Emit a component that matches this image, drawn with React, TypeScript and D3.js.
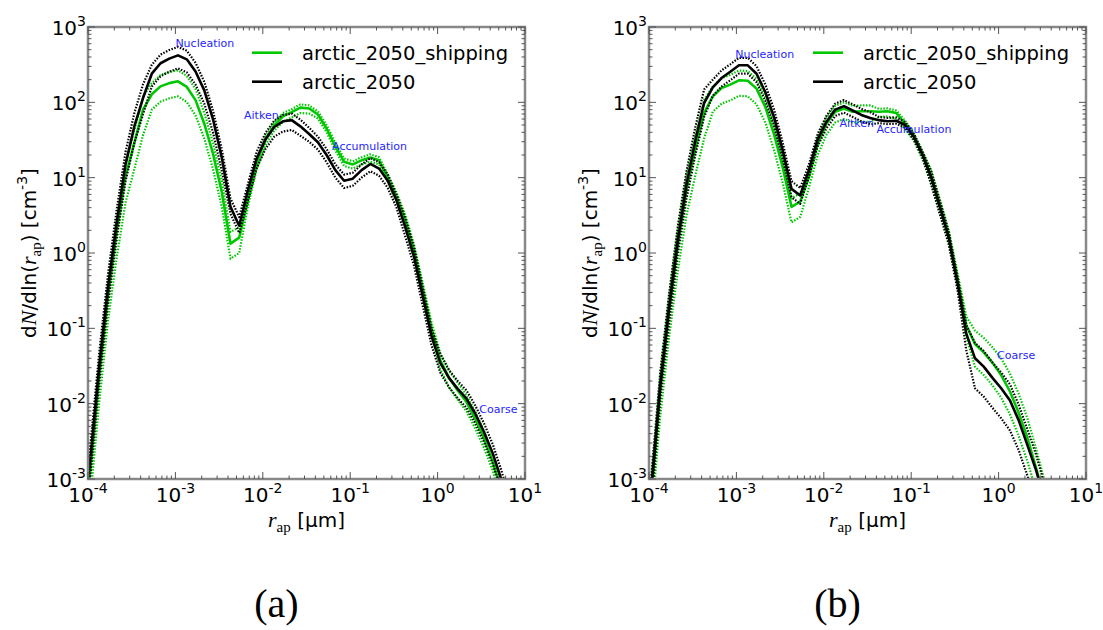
import React, { useEffect, useRef } from "react";
import * as d3 from "d3";

// radius grid (µm), shared by every curve
const radii = [
  8.51e-5,
  1.07e-4, 1.35e-4, 1.7e-4, 2.14e-4, 2.69e-4, 3.39e-4, 4.27e-4, 5.37e-4, 6.76e-4, 8.51e-4,
  1.07e-3, 1.35e-3, 1.7e-3, 2.14e-3, 2.69e-3, 3.39e-3, 4.27e-3, 5.37e-3, 6.76e-3, 8.51e-3,
  1.07e-2, 1.35e-2, 1.7e-2, 2.14e-2, 2.69e-2, 3.39e-2, 4.27e-2, 5.37e-2, 6.76e-2, 8.51e-2,
  0.107, 0.135, 0.17, 0.214, 0.269, 0.339, 0.427, 0.537, 0.676, 0.851,
  1.07, 1.35, 1.7, 2.14, 2.69, 3.39, 4.27, 5.37, 6.76,
];

// panel (a)
const shipA = [
  0.00015, 0.0014, 0.025, 0.28, 2.0, 10.5, 29, 80,
  128, 163, 180, 190, 160, 107, 52, 21, 6.5, 1.33, 1.6,
  5, 15.5, 32, 49, 65, 74, 85, 83,
  69, 45, 26, 16.3, 15, 17, 18.5, 17, 10, 5.5,
  2.7, 1.08, 0.33, 0.1, 0.038, 0.022, 0.015, 0.0105, 0.0063, 0.0035, 0.0017, 0.0007, 0.0003,
];
const shipAUp = [
  0.00023, 0.0021, 0.038, 0.42, 3.0, 15.7, 43, 118,
  180, 230, 252, 266, 224, 150, 73, 29, 9.1, 1.9, 2.2,
  5.5, 17, 35, 54, 72, 81, 94, 91,
  76, 50, 29, 18, 16.5, 18.7, 20.4, 18.7, 11, 6.3,
  3.2, 1.3, 0.4, 0.12, 0.047, 0.0275, 0.019, 0.013, 0.0079, 0.0044, 0.0021, 0.0009, 0.0004,
];
const shipALo = [
  0.00007, 0.0006, 0.011, 0.13, 0.9, 4.7, 13, 37,
  80, 102, 113, 120, 101, 67, 33, 13, 4.1, 0.84, 1.0,
  4.2, 13, 27, 42, 55, 63, 72, 71,
  61, 40, 23, 14.3, 13.2, 15, 16.3, 15, 8.8, 4.8,
  2.2, 0.86, 0.26, 0.08, 0.029, 0.0165, 0.0113, 0.0079, 0.0047, 0.0026, 0.0013, 0.0005, 0.0002,
];
const arcticA = [
  0.0002, 0.002, 0.033, 0.36, 2.6, 15, 48, 115,
  240, 330, 380, 420, 372, 257, 144, 60, 18.6, 4.1, 2.3,
  6.8, 18, 32, 47, 56, 58, 48, 38,
  29.5, 20, 12.6, 9.1, 9.7, 12.6, 15.2, 13.2, 9.1, 5.0,
  2.2, 0.9, 0.27, 0.08, 0.035, 0.022, 0.0157, 0.0117, 0.0074, 0.0042, 0.0022, 0.00098, 0.0004,
];
const arcticAUp = [
  0.0003, 0.003, 0.05, 0.54, 3.9, 22, 72, 175,
  315, 430, 495, 545, 485, 335, 187, 78, 24, 5.3, 3.0,
  8.3, 22, 39, 57, 68, 71, 59, 46,
  35, 24, 15, 11, 11.6, 15, 18.2, 16, 11, 6,
  2.9, 1.2, 0.35, 0.1, 0.046, 0.028, 0.02, 0.015, 0.0095, 0.0055, 0.0029, 0.0013, 0.0005,
];
const arcticALo = [
  0.00012, 0.0012, 0.02, 0.22, 1.6, 9, 29, 70,
  162, 222, 255, 282, 250, 172, 96, 40, 12.5, 3.3, 1.85,
  5, 13.3, 24, 35, 41, 43, 36, 30,
  23.6, 16, 10, 7.3, 7.8, 10, 12.2, 10.6, 7.3, 4,
  1.65, 0.68, 0.2, 0.06, 0.026, 0.0165, 0.0118, 0.0088, 0.0055, 0.0031, 0.0016, 0.0007, 0.0003,
];

// panel (b)
const shipB = [
  0.00008, 0.0007, 0.016, 0.17, 1.3, 7.0, 24, 72,
  120, 155, 172, 196, 193, 152, 87, 38, 13.7, 4.1, 4.8,
  10.3, 28, 52, 75, 83, 75, 76, 76,
  75, 76, 72, 52, 36, 20.5, 10.3, 4.2, 1.7, 0.45,
  0.11, 0.062, 0.048, 0.035, 0.024, 0.0145, 0.0075, 0.0035, 0.0014, 0.0005, 0.0002, 0.0001, 0.00005,
];
const shipBUp = [
  0.00012, 0.001, 0.024, 0.26, 2.0, 10.5, 36, 108,
  162, 209, 232, 265, 260, 205, 117, 51, 18.5, 5.3, 6.2,
  12.4, 34, 62, 90, 100, 90, 91, 91,
  82, 83, 78, 57, 39, 22.3, 12.4, 5, 2.0, 0.54,
  0.143, 0.093, 0.075, 0.056, 0.04, 0.025, 0.0135, 0.0063, 0.0025, 0.0009, 0.00036, 0.00018, 0.00009,
];
const shipBLo = [
  0.00004, 0.0003, 0.0072, 0.077, 0.59, 3.2, 10.8, 33,
  75, 96, 106, 122, 120, 94, 54, 23.5, 8.5, 2.55, 3.0,
  7.4, 20, 37, 54, 60, 54, 55, 55,
  64, 65, 61, 44, 31, 17.4, 8.2, 3.4, 1.36, 0.36,
  0.077, 0.031, 0.024, 0.0175, 0.012, 0.0072, 0.0037, 0.0017, 0.0007, 0.00025, 0.0001, 0.00005, 0.00002,
];
const arcticB = [
  0.0001, 0.0008, 0.018, 0.19, 1.5, 8.2, 31, 98,
  158, 210, 255, 310, 310, 240, 137, 64, 23, 7.1, 5.8,
  12.6, 32, 55, 80, 89, 78, 68, 62,
  58, 56, 57, 50, 35, 20, 10, 4, 1.6, 0.4,
  0.085, 0.04, 0.031, 0.022, 0.016, 0.011, 0.006, 0.0028, 0.0013, 0.0005, 0.0002, 0.0001, 0.00005,
];
const arcticBUp = [
  0.00015, 0.0012, 0.027, 0.29, 2.3, 12.3, 47, 148,
  200, 265, 320, 390, 390, 302, 173, 81, 29, 9, 7.3,
  15, 38, 66, 96, 107, 94, 82, 74,
  64, 62, 63, 55, 38.5, 22, 12, 4.8, 1.9, 0.48,
  0.11, 0.064, 0.05, 0.035, 0.026, 0.018, 0.0096, 0.0045, 0.0021, 0.0008, 0.0003, 0.00016, 0.00008,
];
const arcticBLo = [
  0.00007, 0.0005, 0.012, 0.12, 0.98, 5.3, 20, 64,
  122, 162, 196, 240, 240, 185, 105, 49, 17.7, 5.5, 4.5,
  10.3, 26, 45, 66, 73, 64, 56, 51,
  53, 51.5, 52, 46, 32, 18.4, 8, 3.2, 1.3, 0.32,
  0.051, 0.016, 0.0124, 0.0088, 0.0064, 0.0044, 0.0024, 0.0011, 0.0005, 0.0002, 0.00008, 0.00004, 0.00002,
];

const xTicks = [1e-4, 1e-3, 1e-2, 1e-1, 1, 10];
const xTickExp = ["-4", "-3", "-2", "-1", "0", "1"];
const yTicks = [1e-3, 1e-2, 1e-1, 1, 10, 100, 1000];
const yTickExp = ["-3", "-2", "-1", "0", "1", "2", "3"];
const legendLabels = ["arctic_2050_shipping", "arctic_2050"];
const modeLabels = ["Nucleation", "Aitken", "Accumulation", "Coarse"];
const modeRA = [1.0e-3, 6.1e-3, 0.062, 3.0];
const modeNA = [550, 60, 23, 0.0075];
const modeRB = [9.7e-4, 0.0151, 0.04, 0.96];
const modeNB = [386, 47, 39, 0.039];

const GREEN = "#00c800";
const BLUE = "#2626ff";

const App = () => {
  const ref = useRef<SVGSVGElement>(null);

  useEffect(() => {
    const svg = d3.select(ref.current);
    svg.selectAll("*").remove();

    const top = 27;
    const bottom = 479;
    const width = 437;

    const panels = [
      {
        left: 88,
        tag: "(a)",
        ship: [shipA, shipAUp, shipALo],
        arctic: [arcticA, arcticAUp, arcticALo],
        modeR: modeRA,
        modeN: modeNA,
      },
      {
        left: 649,
        tag: "(b)",
        ship: [shipB, shipBUp, shipBLo],
        arctic: [arcticB, arcticBUp, arcticBLo],
        modeR: modeRB,
        modeN: modeNB,
      },
    ];

    const defs = svg.append("defs");

    panels.forEach((p, pi) => {
      const x = d3.scaleLog().domain([1e-4, 10]).range([p.left, p.left + width]);
      const y = d3.scaleLog().domain([1e-3, 1e3]).range([bottom, top]);
      const g = svg.append("g");

      defs
        .append("clipPath")
        .attr("id", `plot-clip-${pi}`)
        .append("rect")
        .attr("x", p.left)
        .attr("y", top)
        .attr("width", width)
        .attr("height", bottom - top);

      const line = d3
        .line<number>()
        .x((_, i) => x(radii[i]))
        .y((d) => y(d));

      const curves = g.append("g").attr("clip-path", `url(#plot-clip-${pi})`);
      const drawSet = (set: number[][], color: string) => {
        set.forEach((vals, k) => {
          curves
            .append("path")
            .attr("d", line(vals))
            .attr("fill", "none")
            .attr("stroke", color)
            .attr("stroke-width", k === 0 ? 2.6 : 2.2)
            .attr("stroke-dasharray", k === 0 ? null : "1.5,1.5")
            .attr("stroke-linejoin", "round");
        });
      };
      drawSet(p.ship, GREEN);
      drawSet(p.arctic, "#000");

      // mode annotations
      modeLabels.forEach((m, i) => {
        g.append("text")
          .attr("x", x(p.modeR[i]))
          .attr("y", y(p.modeN[i]))
          .attr("fill", BLUE)
          .style("font-family", "DejaVu Sans")
          .style("font-size", "11px")
          .text(m);
      });

      // frame
      g.append("rect")
        .attr("x", p.left)
        .attr("y", top)
        .attr("width", width)
        .attr("height", bottom - top)
        .attr("fill", "none")
        .attr("stroke", "#888")
        .attr("stroke-width", 2.5);

      // ticks
      const tickG = g.append("g").attr("stroke", "#555").attr("stroke-width", 1);
      const xMinor: number[] = [];
      xTicks.slice(0, -1).forEach((d) => d3.range(2, 10).forEach((m) => xMinor.push(d * m)));
      const yMinor: number[] = [];
      yTicks.slice(0, -1).forEach((d) => d3.range(2, 10).forEach((m) => yMinor.push(d * m)));

      const xt = [...xTicks.map((v) => [v, 7]), ...xMinor.map((v) => [v, 3.5])];
      xt.forEach(([v, len]) => {
        const px = x(v);
        tickG.append("line").attr("x1", px).attr("x2", px).attr("y1", bottom).attr("y2", bottom - len);
        tickG.append("line").attr("x1", px).attr("x2", px).attr("y1", top).attr("y2", top + len);
      });
      const yt = [...yTicks.map((v) => [v, 7]), ...yMinor.map((v) => [v, 3.5])];
      yt.forEach(([v, len]) => {
        const py = y(v);
        tickG.append("line").attr("x1", p.left).attr("x2", p.left + len).attr("y1", py).attr("y2", py);
        tickG
          .append("line")
          .attr("x1", p.left + width)
          .attr("x2", p.left + width - len)
          .attr("y1", py)
          .attr("y2", py);
      });

      // tick labels
      xTicks.forEach((v, i) => {
        const t = g
          .append("text")
          .attr("x", x(v))
          .attr("y", bottom + 23)
          .attr("text-anchor", "middle")
          .style("font-family", "DejaVu Sans")
          .style("font-size", "20px");
        t.append("tspan").text("10");
        t.append("tspan").attr("dy", -9).style("font-size", "14px").text(xTickExp[i]);
      });
      yTicks.forEach((v, i) => {
        const t = g
          .append("text")
          .attr("x", p.left - 2)
          .attr("y", y(v) + 8)
          .attr("text-anchor", "end")
          .style("font-family", "DejaVu Sans")
          .style("font-size", "20px");
        t.append("tspan").text("10");
        t.append("tspan").attr("dy", -9).style("font-size", "14px").text(yTickExp[i]);
      });

      // axis labels
      const xl = g
        .append("text")
        .attr("x", p.left + width / 2)
        .attr("y", 527)
        .attr("text-anchor", "middle")
        .style("font-family", "DejaVu Sans")
        .style("font-size", "20px");
      xl.append("tspan").style("font-family", "Liberation Serif").style("font-style", "italic").style("font-size", "22px").text("r");
      xl.append("tspan").attr("dy", 5).style("font-family", "Liberation Serif").style("font-size", "15px").text("ap");
      xl.append("tspan").attr("dy", -5).text(" [µm]");

      const yl = g
        .append("text")
        .attr("transform", `translate(${p.left - 52},${(top + bottom) / 2}) rotate(-90)`)
        .attr("text-anchor", "middle")
        .style("font-family", "DejaVu Sans")
        .style("font-size", "20px");
      yl.append("tspan").text("d");
      yl.append("tspan").style("font-family", "Liberation Serif").style("font-style", "italic").style("font-size", "22px").text("N");
      yl.append("tspan").text("/dln(");
      yl.append("tspan").style("font-family", "Liberation Serif").style("font-style", "italic").style("font-size", "22px").text("r");
      yl.append("tspan").attr("dy", 5).style("font-family", "Liberation Serif").style("font-size", "15px").text("ap");
      yl.append("tspan").attr("dy", -5).text(") [cm");
      yl.append("tspan").attr("dy", -9).style("font-size", "14px").text("-3");
      yl.append("tspan").attr("dy", 9).text("]");

      // legend
      [GREEN, "#000"].forEach((c, i) => {
        const ly = 52.7 + i * 29;
        g.append("line")
          .attr("x1", p.left + 164)
          .attr("x2", p.left + 194)
          .attr("y1", ly)
          .attr("y2", ly)
          .attr("stroke", c)
          .attr("stroke-width", 2.6);
        g.append("text")
          .attr("x", p.left + 214)
          .attr("y", ly + 7.5)
          .style("font-family", "DejaVu Sans")
          .style("font-size", "19.5px")
          .text(legendLabels[i]);
      });

      // panel tag
      svg
        .append("text")
        .attr("x", p.left + width / 2 - 30)
        .attr("y", 617)
        .attr("text-anchor", "middle")
        .style("font-family", "Liberation Serif")
        .style("font-size", "40px")
        .text(p.tag);
    });
  }, []);

  return (
    <svg
      ref={ref}
      width={1103}
      height={630}
      style={{ position: "absolute", left: 0, top: 0, background: "#fff" }}
    />
  );
};

export default App;
